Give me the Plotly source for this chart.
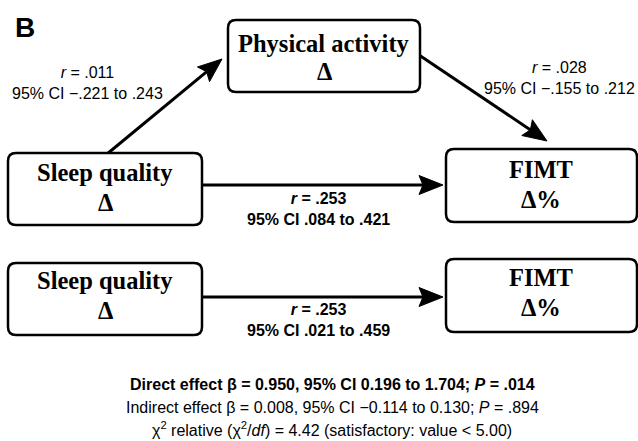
import plotly.graph_objects as go

# Path estimates of the mediation model (r and 95% CI)
path_names = ["sleep_to_pa", "pa_to_fimt", "sleep_to_fimt_mediated", "sleep_to_fimt_total"]
path_r = [0.011, 0.028, 0.253, 0.253]
path_ci_low = [-0.221, -0.155, 0.084, 0.021]
path_ci_high = [0.243, 0.212, 0.421, 0.459]

# Effect summary
direct_beta, direct_ci, direct_p = 0.950, (0.196, 1.704), 0.014
indirect_beta, indirect_ci, indirect_p = 0.008, (-0.114, 0.130), 0.894
chi2_relative, chi2_threshold = 4.42, 5.00

W, H = 638, 441
SANS = "Liberation Sans, Arial, sans-serif"
SERIF = "Liberation Serif, Times New Roman, serif"


def short(v):
    s = f"{abs(v):.3f}"
    if s.startswith("0"):
        s = s[1:]
    return ("−" if v < 0 else "") + s


def full(v):
    return ("−" if v < 0 else "") + f"{abs(v):.3f}"


fig = go.Figure()
shapes = []
annotations = []


def rounded_box(x0, y0, x1, y1, r=8):
    path = (f"M{x0 + r},{y0} L{x1 - r},{y0} Q{x1},{y0} {x1},{y0 + r} "
            f"L{x1},{y1 - r} Q{x1},{y1} {x1 - r},{y1} L{x0 + r},{y1} "
            f"Q{x0},{y1} {x0},{y1 - r} L{x0},{y0 + r} Q{x0},{y0} {x0 + r},{y0} Z")
    shapes.append(dict(type="path", path=path, xref="x", yref="y",
                       line=dict(color="black", width=2.5), fillcolor="white"))


def arrow(x0, y0, x1, y1, head_len=24, head_half=9.5, notch=4):
    dx, dy = x1 - x0, y1 - y0
    n = (dx ** 2 + dy ** 2) ** 0.5
    ux, uy = dx / n, dy / n
    px, py = -uy, ux
    bx, by = x1 - ux * head_len, y1 - uy * head_len
    nx, ny = bx + ux * notch, by + uy * notch
    shapes.append(dict(type="line", x0=x0, y0=y0, x1=nx + ux * 1, y1=ny + uy * 1,
                       xref="x", yref="y", line=dict(color="black", width=3)))
    head = (f"M{x1},{y1} L{bx + px * head_half},{by + py * head_half} "
            f"L{nx},{ny} L{bx - px * head_half},{by - py * head_half} Z")
    shapes.append(dict(type="path", path=head, xref="x", yref="y",
                       line=dict(color="black", width=1), fillcolor="black"))


def label(x, y, text, size, family=SANS, color="black"):
    annotations.append(dict(x=x, y=y, xref="x", yref="y", text=text, showarrow=False,
                            font=dict(family=family, size=size, color=color),
                            xanchor="center", yanchor="middle", align="center"))


# Arrows (drawn first so boxes sit on top of line ends)
arrow(107, 154, 222, 59)
arrow(419, 55, 547, 141)
arrow(202, 185, 443, 185)
arrow(202, 297, 443, 297)

# Boxes
rounded_box(228, 20, 420, 92)
rounded_box(8, 153, 202, 225)
rounded_box(446, 149, 637, 222)
rounded_box(8, 263, 202, 335)
rounded_box(446, 259, 637, 332)

# Box captions, one annotation per line
BOX_SIZE = 24.5
for cx, y1, y2, top, bottom in [
    (324, 43, 71, "Physical activity", "Δ"),
    (105, 172, 202, "Sleep quality", "Δ"),
    (541, 169, 199, "FIMT", "Δ%"),
    (105, 280, 310, "Sleep quality", "Δ"),
    (541, 277, 307, "FIMT", "Δ%"),
]:
    label(cx, y1, f"<b>{top}</b>", BOX_SIZE, SERIF)
    label(cx, y2, f"<b>{bottom}</b>", BOX_SIZE, SERIF)


# Path coefficient labels
def coef_text(i, bold=False):
    t = f"<i>r</i> = {short(path_r[i])}<br>95% CI {short(path_ci_low[i])} to {short(path_ci_high[i])}"
    return f"<b>{t}</b>" if bold else t


label(87, 83, coef_text(0), 16)
label(559, 78, coef_text(1), 16)
label(318, 209, coef_text(2, bold=True), 16)
label(318, 320, coef_text(3, bold=True), 16)

# Panel letter
annotations.append(dict(x=13, y=27, xref="x", yref="y", text="<b>B</b>", showarrow=False,
                        font=dict(family=SANS, size=28, color="black"),
                        xanchor="left", yanchor="middle"))

# Effect summary lines
label(332, 384,
      f"<b>Direct effect β = {direct_beta:.3f}, 95% CI {full(direct_ci[0])} to {full(direct_ci[1])}; "
      f"<i>P</i> = {short(direct_p)}</b>", 16)
label(332, 407,
      f"Indirect effect β = {indirect_beta:.3f}, 95% CI {full(indirect_ci[0])} to {full(indirect_ci[1])}; "
      f"<i>P</i> = {short(indirect_p)}", 16)
label(332, 429,
      f"χ<sup>2</sup> relative (χ<sup>2</sup>/<i>df</i>) = {chi2_relative:.2f} "
      f"(satisfactory: value &lt; {chi2_threshold:.2f})", 16)

fig.update_layout(
    width=W, height=H, margin=dict(l=0, r=0, t=0, b=0),
    paper_bgcolor="white", plot_bgcolor="white",
    xaxis=dict(range=[0, W], visible=False, fixedrange=True),
    yaxis=dict(range=[H, 0], visible=False, fixedrange=True),
    shapes=shapes, annotations=annotations, showlegend=False,
)

fig.write_html("out.html")
